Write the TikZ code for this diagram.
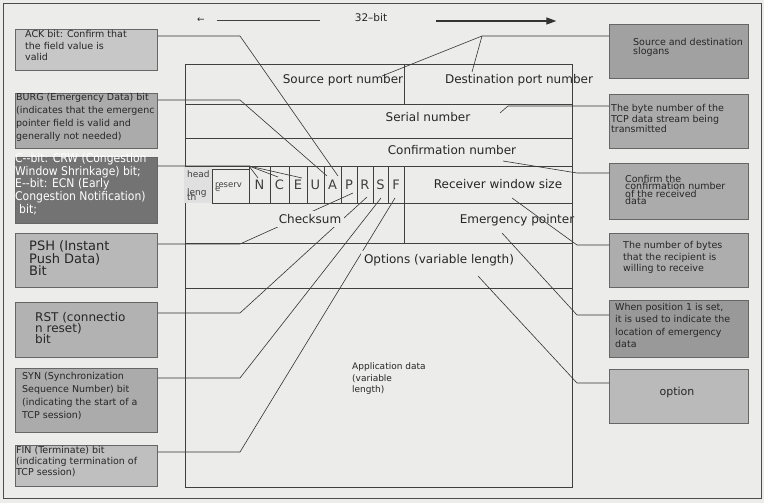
\documentclass[tikz,border=0pt]{standalone}
\usepackage{fontspec}
\setmainfont{DejaVu Sans}
\newfontfamily\narrowsans[FakeStretch=0.9]{DejaVu Sans}
\usetikzlibrary{arrows.meta}

\definecolor{paper}{RGB}{236,236,234}

\begin{document}
\begin{tikzpicture}[x=1pt,y=-1pt,
    leader/.style={black!80,line width=0.6pt},
    gridline/.style={black!75,line width=0.7pt},
    field/.style={font=\fontsize{12}{14}\selectfont,text=black!85,inner sep=1pt},
    fieldmask/.style={field,fill=paper,inner sep=3pt},
    flag/.style={draw=black!75,line width=0.6pt,minimum height=37pt,inner sep=0pt,text=black!75,font=\fontsize{13}{14}\selectfont},
    note/.style={draw=black!60,line width=0.8pt,anchor=north west,inner sep=0pt,minimum width=142pt},
    notetext/.style={anchor=west,align=left,inner sep=0pt,text=black!85},
    small/.style={font=\fontsize{9.5}{#1}\selectfont},
    tiny/.style={anchor=base west,inner sep=0pt,text=black!75}]
      \useasboundingbox (0,0) rectangle (764,503);
      \fill [paper] (0,0) rectangle (764,503);
      \draw [black!70,line width=0.8pt] (3,3) rectangle (761,498);

      % left notes
      \node [note,fill=black!22,minimum height=41pt] (ack) at (15,29) {};
      \node [notetext,small=11.3] (acktxt) at (25,45.5) {ACK bit: Confirm that\\the field value is\\valid};
      \node [note,fill=black!33,minimum height=55pt] (burg) at (15,93) {};
      \node [notetext,small=13] (burgtxt) at (16,117.5) {BURG (Emergency Data) bit\\(indicates that the emergenc\\pointer field is valid and\\generally not needed)};
      \node [note,fill=black!55,minimum height=66pt] (cbit) at (15,157) {};
      \node [notetext,text=white,font=\narrowsans\fontsize{12}{11.5}\selectfont] (cbittxt) at (15,184) {C--bit: CRW (Congestion\\Window Shrinkage) bit;\\E--bit: ECN (Early\\Congestion Notification)\\\hspace*{4pt}bit;};
      \node [note,fill=black!28,minimum height=54pt] (psh) at (15,233) {};
      \node [notetext,font=\fontsize{13}{11}\selectfont] (pshtxt) at (29,258.3) {PSH (Instant\\Push Data)\\Bit};
      \node [note,fill=black!30,minimum height=55pt] (rst) at (15,302) {};
      \node [notetext,font=\fontsize{12}{11}\selectfont] (rsttxt) at (35,328.3) {RST (connectio\\n reset)\\bit};
      \node [note,fill=black!33,minimum height=64pt] (syn) at (15,368) {};
      \node [notetext,small=13] (syntxt) at (22,396) {SYN (Synchronization\\Sequence Number) bit\\(indicating the start of a\\TCP session)};
      \node [note,fill=black!25,minimum height=41pt] (fin) at (15,445) {};
      \node [notetext,small=11] (fintxt) at (16,462) {FIN (Terminate) bit\\(indicating termination of\\TCP session)};

      % right notes
      \node [note,fill=black!37,minimum width=139pt,minimum height=54pt] (ports) at (609,24) {};
      \node [notetext,small=9] (portstxt) at (633,47.8) {Source and destination\\slogans};
      \node [note,fill=black!33,minimum width=139pt,minimum height=54pt] (bytes) at (609,94) {};
      \node [notetext,small=10.5] (bytestxt) at (611,118.8) {The byte number of the\\TCP data stream being\\transmitted};
      \node [note,fill=black!33,minimum width=139pt,minimum height=56pt] (conf) at (609,163) {};
      \node [notetext,small=7.5] (conftxt) at (625,190) {Confirm the\\confirmation number\\of the received\\data};
      \node [note,fill=black!32,minimum width=139pt,minimum height=54pt] (win) at (609,233) {};
      \node [notetext,small=11.5] (wintxt) at (623,257.5) {The number of bytes\\that the recipient is\\willing to receive};
      \node [note,fill=black!40,minimum width=139pt,minimum height=57pt] (urg) at (609,300) {};
      \node [notetext,small=12.5] (urgtxt) at (615,325.7) {When position 1 is set,\\it is used to indicate the\\location of emergency\\data};
      \node [note,fill=black!27,minimum width=139pt,minimum height=54pt] (opt) at (609,369) {};
      \node [text=black!85,font=\fontsize{11}{13}\selectfont] (opttxt) at (677,392) {option};

      % leaders from the left notes
      \coordinate (ackknee) at (240,36);   \coordinate (ackend) at (338,176);
      \coordinate (burgknee) at (240,100); \coordinate (burgend) at (327,176);
      \coordinate (cknee) at (249,166);
      \coordinate (cN) at (258,178); \coordinate (cC) at (278,177); \coordinate (cE) at (302,178);
      \coordinate (pshknee) at (240,244);  \coordinate (pshend) at (353,193);
      \coordinate (rstknee) at (240,313);  \coordinate (rstend) at (367,197);
      \coordinate (synknee) at (240,378);  \coordinate (synend) at (381,198);
      \coordinate (finknee) at (240,452);  \coordinate (finend) at (395,198);
      \draw [leader] (ack.east |- ackknee) -- (ackknee) -- (ackend);
      \draw [leader] (burg.east |- burgknee) -- (burgknee) -- (burgend);
      \draw [leader] (cbit.east |- cknee) -- (cknee) -- (cN);
      \draw [leader] (cknee) -- (cC);
      \draw [leader] (cknee) -- (cE);
      \draw [leader] (psh.east |- pshknee) -- (pshknee) -- (pshend);
      \draw [leader] (rst.east |- rstknee) -- (rstknee) -- (rstend);
      \draw [leader] (syn.east |- synknee) -- (synknee) -- (synend);
      \draw [leader] (fin.east |- finknee) -- (finknee) -- (finend);

      % field names
      \node [fieldmask] (srcport) at (343,80) {Source port number};
      \node [field] (dstport) at (519,80) {Destination port number};
      \node [field] (serial) at (428,117) {Serial number};
      \node [field] (confirm) at (452,150) {Confirmation number};
      \node [field] (window) at (498,184) {Receiver window size};
      \node [fieldmask] (checksum) at (310,219) {Checksum};
      \node [field] (urgent) at (517,220) {Emergency pointer};
      \node [fieldmask] (options) at (439,260) {Options (variable length)};
      \node [notetext,font=\fontsize{9}{11.5}\selectfont] (appdata) at (352,379) {Application data\\(variable\\length)};

      % header grid
      \draw [gridline] (185,64) rectangle (572,487);
      \draw [gridline] (185,104) -- (572,104);
      \draw [gridline] (185,138) -- (572,138);
      \draw [gridline] (185,166) -- (572,166);
      \draw [gridline] (404,203) -- (572,203);
      \draw [gridline] (185,243) -- (572,243);
      \draw [gridline] (185,288) -- (572,288);
      \draw [gridline] (404,64) -- (404,104);
      \draw [gridline] (404,166) -- (404,243);
      \fill [black!12] (184,167) rectangle (212,203);
      \draw [gridline] (212,169) -- (249,169);
      \draw [gridline] (212,169) -- (212,203) -- (249,203);
      \foreach \l/\a/\b in {N/249/270,C/270/289,E/289/307,U/307/324,A/324/341,P/341/357,R/357/373,S/373/388,F/388/404}
        \node [flag,minimum width={(\b-\a)*1pt}] (f\l) at ({(\a+\b)/2},184.5) {\l};
      \node [tiny,font=\fontsize{9}{10}\selectfont] (hd1) at (187,177) {head};
      \node [tiny,font=\fontsize{9}{10}\selectfont] (hd2) at (187,195) {leng};
      \node [tiny,font=\fontsize{9}{10}\selectfont] (hd3) at (187,200.5) {th};
      \node [tiny,font=\fontsize{8.5}{10}\selectfont] (rs1) at (215,187) {reserv};
      \node [tiny,font=\fontsize{8.5}{10}\selectfont] (rs2) at (215,191.5) {e};

      % leaders from the right notes
      \coordinate (portsknee) at (482,36);
      \coordinate (srcend) at (382,76);   \coordinate (dstend) at (472,72);
      \coordinate (bytesknee) at (508,106); \coordinate (bytesend) at (500,113);
      \coordinate (confknee) at (577,173);  \coordinate (confend) at (503,161);
      \coordinate (winknee) at (577,245);   \coordinate (winend) at (512,198);
      \coordinate (urgknee) at (577,315);   \coordinate (urgend) at (502,233);
      \coordinate (optknee) at (577,383);   \coordinate (optend) at (478,276);
      \draw [leader] (ports.west |- portsknee) -- (portsknee) -- (srcend);
      \draw [leader] (portsknee) -- (dstend);
      \draw [leader] (bytes.west |- bytesknee) -- (bytesknee) -- (bytesend);
      \draw [leader] (conf.west |- confknee) -- (confknee) -- (confend);
      \draw [leader] (win.west |- winknee) -- (winknee) -- (winend);
      \draw [leader] (urg.west |- urgknee) -- (urgknee) -- (urgend);
      \draw [leader] (opt.west |- optknee) -- (optknee) -- (optend);

      % width arrow
      \node [text=black!85,inner sep=0pt,font=\fontsize{10.5}{12}\selectfont] (bits) at (371,18) {32--bit};
      \node [text=black!85,inner sep=0pt,font=\fontsize{9}{10}\selectfont] (larr) at (201,20) {←};
      \draw [black!75,line width=0.7pt] ([xshift=12pt]larr.east) -- ([xshift=-35pt,yshift=-2pt]bits.west);
      \draw [-{Triangle[length=10pt,width=7pt]},black!80,line width=1.2pt] ([xshift=49pt,yshift=-3pt]bits.east) -- ([xshift=169pt,yshift=-3pt]bits.east);
    \end{tikzpicture}
\end{document}
